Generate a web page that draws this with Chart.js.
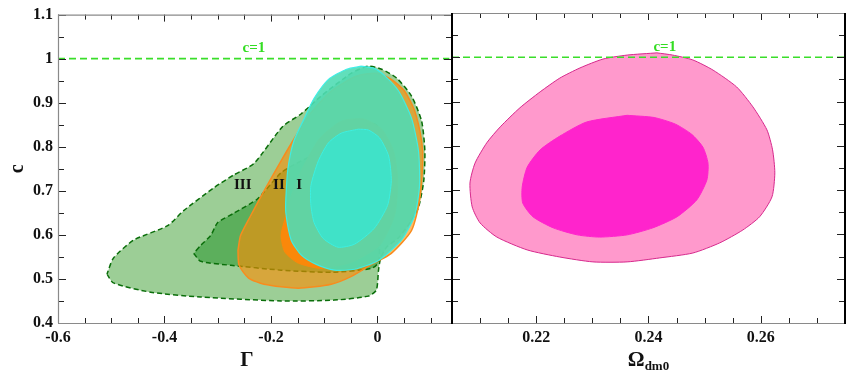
<!doctype html>
<html lang="en">
  <head>
    <meta charset="utf-8">
    <title>Confidence contours c vs Gamma and Omega_dm0</title>
    <style>
      * { margin: 0; padding: 0; }
      body { background: #ffffff; width: 852px; height: 382px; position: relative; overflow: hidden; }
      canvas { position: absolute; top: 0; }
      #leftChart { left: 0; }
      #rightChart { left: 440px; }
    </style>
  </head>
  <body>
    <canvas id="leftChart" width="460" height="382"></canvas>
    <canvas id="rightChart" width="412" height="382"></canvas>
    <script src="https://cdn.jsdelivr.net/npm/chart.js"></script>
    <script>
    // ---- data ----
    // left panel: (Gamma, c) contours
    const outerIII = [[-0.508,0.511],[-0.496,0.491],[-0.426,0.470],[-0.332,0.459],[-0.181,0.450],[-0.081,0.452],
      [-0.017,0.461],[-0.002,0.475],[0.002,0.520],[0.006,0.547],[0.017,0.572],[0.040,0.594],[0.064,0.633],
      [0.077,0.662],[0.087,0.723],[0.089,0.791],[0.083,0.858],[0.064,0.915],[0.036,0.956],[0.008,0.976],
      [-0.017,0.983],[-0.049,0.967],[-0.106,0.915],[-0.143,0.875],[-0.178,0.846],[-0.232,0.762],[-0.270,0.736],
      [-0.306,0.708],[-0.364,0.655],[-0.394,0.621],[-0.458,0.588],[-0.496,0.547]];
    const innerIII = [[-0.345,0.558],[-0.332,0.540],[-0.275,0.531],[-0.181,0.520],[-0.087,0.515],[-0.011,0.524],
      [0.002,0.538],[0.004,0.588],[0.004,0.633],[0.008,0.723],[0.008,0.798],[0.000,0.847],[-0.011,0.854],
      [-0.062,0.829],[-0.092,0.798],[-0.143,0.768],[-0.181,0.741],[-0.225,0.682],[-0.270,0.649],[-0.300,0.628],
      [-0.313,0.599],[-0.332,0.576]];
    const outerII = [[-0.262,0.565],[-0.260,0.531],[-0.242,0.502],[-0.213,0.488],[-0.149,0.479],[-0.087,0.488],
      [-0.049,0.506],[-0.011,0.533],[0.026,0.558],[0.064,0.610],[0.079,0.678],[0.085,0.768],[0.083,0.813],
      [0.070,0.881],[0.051,0.926],[0.026,0.953],[-0.002,0.967],[-0.040,0.960],[-0.087,0.926],[-0.125,0.877],
      [-0.153,0.825],[-0.181,0.768],[-0.213,0.700],[-0.238,0.644],[-0.257,0.599]];
    const innerII = [[-0.172,0.644],[-0.181,0.599],[-0.174,0.561],[-0.149,0.536],[-0.106,0.524],[-0.049,0.538],
      [0.004,0.576],[0.032,0.644],[0.038,0.723],[0.030,0.791],[0.008,0.840],[-0.026,0.863],[-0.068,0.858],
      [-0.109,0.818],[-0.143,0.746],[-0.162,0.689]];
    const outerI = [[-0.030,0.983],[-0.058,0.976],[-0.092,0.953],[-0.119,0.910],[-0.138,0.863],[-0.157,0.813],
      [-0.168,0.752],[-0.172,0.685],[-0.172,0.649],[-0.162,0.588],[-0.143,0.554],[-0.115,0.533],[-0.081,0.520],
      [-0.043,0.522],[0.002,0.542],[0.045,0.588],[0.070,0.644],[0.079,0.712],[0.077,0.791],[0.064,0.865],
      [0.040,0.926],[0.013,0.962],[-0.006,0.978]];
    const innerI = [[-0.036,0.840],[-0.068,0.831],[-0.092,0.809],[-0.111,0.768],[-0.125,0.712],[-0.125,0.667],
      [-0.119,0.628],[-0.102,0.592],[-0.074,0.572],[-0.043,0.579],[-0.006,0.615],[0.019,0.667],[0.026,0.723],
      [0.021,0.779],[0.004,0.820],[-0.017,0.838]];
    // right panel: (Omega_dm0, c) contours
    const outerOmega = [[0.2415,1.010],[0.2362,1.005],[0.2319,0.996],[0.2278,0.976],[0.2242,0.953],[0.2207,0.922],
      [0.2171,0.886],[0.2136,0.843],[0.2112,0.807],[0.2091,0.761],[0.2082,0.716],[0.2086,0.662],[0.2100,0.626],
      [0.2130,0.594],[0.2184,0.565],[0.2242,0.549],[0.2301,0.538],[0.2362,0.538],[0.2420,0.547],[0.2479,0.558],
      [0.2527,0.581],[0.2568,0.610],[0.2598,0.640],[0.2620,0.685],[0.2625,0.739],[0.2621,0.791],[0.2611,0.836],
      [0.2586,0.888],[0.2557,0.933],[0.2515,0.971],[0.2479,0.994],[0.2443,1.005]];
    const innerOmega = [[0.2362,0.869],[0.2290,0.854],[0.2242,0.822],[0.2207,0.791],[0.2184,0.752],[0.2175,0.707],
      [0.2176,0.671],[0.2194,0.640],[0.2230,0.615],[0.2273,0.599],[0.2313,0.594],[0.2362,0.599],[0.2408,0.615],
      [0.2451,0.640],[0.2486,0.678],[0.2504,0.723],[0.2506,0.761],[0.2497,0.797],[0.2477,0.826],[0.2448,0.849],
      [0.2410,0.864]];
    const cLimit = 1;

    // tick labels
    const yTickLabels = [0.4, 0.5, 0.6, 0.7, 0.8, 0.9, 1, 1.1];
    const gammaTickLabels = [-0.6, -0.4, -0.2, 0];
    const omegaTickLabels = [0.22, 0.24, 0.26];

    // text annotations (data coordinates)
    const leftNotes = [
      { text: 'III', x: -0.253, y: 0.712, color: '#111' },
      { text: 'II', x: -0.185, y: 0.712, color: '#111' },
      { text: 'I', x: -0.147, y: 0.712, color: '#111' },
      { text: 'c=1', x: -0.232, y: 1.024, color: '#33dd22' }
    ];
    const rightNotes = [
      { text: 'c=1', x: 0.2429, y: 1.024, color: '#33dd22' }
    ];

    // ---- helpers ----
    const SERIF = '"Liberation Serif", "DejaVu Serif", serif';
    const toXY = arr => arr.concat([arr[0]]).map(p => ({ x: p[0], y: p[1] }));
    const onList = (v, list) => list.some(t => Math.abs(t - v) < 1e-6);
    const fmt = v => String(Number(Number(v).toFixed(3)));

    function contour(data, fill, border, width, dash, order) {
      return {
        data: toXY(data),
        showLine: true,
        fill: 'shape',
        backgroundColor: fill,
        borderColor: border,
        borderWidth: width,
        borderDash: dash,
        pointRadius: 0,
        tension: 0.22,
        order: order
      };
    }

    function limitLine(x0, x1) {
      return {
        data: [{ x: x0, y: cLimit }, { x: x1, y: cLimit }],
        showLine: true,
        fill: false,
        borderColor: '#3ade2a',
        borderWidth: 1.6,
        borderDash: [7, 4],
        pointRadius: 0,
        order: 0
      };
    }

    // frame, inward ticks and text
    function decorPlugin(cfg) {
      return {
        id: 'decor',
        afterDatasetsDraw(chart) {
          const ctx = chart.ctx;
          const x = chart.scales.x, y = chart.scales.y;
          ctx.save();
          ctx.font = 'bold 15px ' + SERIF;
          ctx.textAlign = 'center';
          ctx.textBaseline = 'middle';
          cfg.notes.forEach(n => {
            ctx.fillStyle = n.color;
            ctx.fillText(n.text, x.getPixelForValue(n.x), y.getPixelForValue(n.y));
          });
          ctx.restore();
        },
        afterDraw(chart) {
          const ctx = chart.ctx;
          const a = chart.chartArea;
          const x = chart.scales.x, y = chart.scales.y;
          ctx.save();
          // inward ticks
          ctx.strokeStyle = '#222';
          ctx.lineWidth = 1;
          ctx.beginPath();
          for (let i = 0; ; i++) {
            const v = cfg.xStart + i * cfg.xStep;
            if (v > x.max + 1e-9) break;
            const px = Math.round(x.getPixelForValue(v)) + 0.5;
            const len = onList(v, cfg.xMajor) ? 7 : 5;
            ctx.moveTo(px, a.bottom); ctx.lineTo(px, a.bottom - len);
            ctx.moveTo(px, a.top); ctx.lineTo(px, a.top + len);
          }
          for (let i = 0; ; i++) {
            const v = 0.4 + i * 0.05;
            if (v > 1.1 + 1e-9) break;
            const py = Math.round(y.getPixelForValue(v)) + 0.5;
            const len = onList(v, yTickLabels) ? 8 : 6;
            ctx.moveTo(a.left, py); ctx.lineTo(a.left + len, py);
            ctx.moveTo(a.right, py); ctx.lineTo(a.right - len, py);
          }
          ctx.stroke();
          // frame
          ctx.strokeStyle = '#8a8a8a';
          ctx.lineWidth = 1.2;
          ctx.beginPath();
          ctx.moveTo(a.left, a.top + 0.5); ctx.lineTo(a.right, a.top + 0.5);
          ctx.moveTo(a.left, a.bottom + 0.5); ctx.lineTo(a.right, a.bottom + 0.5);
          if (!cfg.darkLeft) { ctx.moveTo(a.left + 0.5, a.top); ctx.lineTo(a.left + 0.5, a.bottom); }
          ctx.stroke();
          ctx.strokeStyle = '#000';
          ctx.lineWidth = 2;
          ctx.beginPath();
          ctx.moveTo(a.right, a.top); ctx.lineTo(a.right, a.bottom + 1);
          if (cfg.darkLeft) { ctx.moveTo(a.left, a.top); ctx.lineTo(a.left, a.bottom + 1); }
          ctx.stroke();
          // axis titles
          ctx.fillStyle = '#111';
          ctx.textBaseline = 'alphabetic';
          if (cfg.xTitle === 'Γ') {
            ctx.font = 'bold 21px ' + SERIF;
            ctx.textAlign = 'center';
            ctx.fillText('Γ', (a.left + a.right) / 2 - 8, 366);
            ctx.save();
            ctx.translate(23, (a.top + a.bottom) / 2);
            ctx.rotate(-Math.PI / 2);
            ctx.font = 'bold 20px ' + SERIF;
            ctx.fillText('c', 0, 0);
            ctx.restore();
          } else {
            ctx.textAlign = 'left';
            ctx.font = 'bold 21px ' + SERIF;
            const w1 = ctx.measureText('Ω').width;
            ctx.font = 'bold 13px ' + SERIF;
            const w2 = ctx.measureText('dm0').width;
            const x0 = (a.left + a.right) / 2 - (w1 + w2) / 2;
            ctx.font = 'bold 21px ' + SERIF;
            ctx.fillText('Ω', x0, 366);
            ctx.font = 'bold 13px ' + SERIF;
            ctx.fillText('dm0', x0 + w1, 370);
          }
          ctx.restore();
        }
      };
    }

    const tickFont = { family: SERIF, size: 16, weight: 'bold' };

    // ---- left panel ----
    const leftChart = new Chart(document.getElementById('leftChart'), {
      type: 'scatter',
      data: {
        datasets: [
          limitLine(-0.6, 0.135),
          contour(innerI, 'rgb(64,226,200)', 'rgb(60,240,225)', 1, [], 1),
          contour(outerI, 'rgba(80,220,180,0.9)', 'rgba(60,238,232,0.95)', 1.2, [], 2),
          contour(innerII, 'rgba(255,135,8,0.92)', 'rgba(255,135,8,0.9)', 1, [], 3),
          contour(outerII, 'rgba(255,140,0,0.6)', 'rgb(248,140,30)', 1.5, [], 4),
          contour(innerIII, 'rgb(92,175,92)', 'rgb(10,110,10)', 1.5, [5, 3], 5),
          contour(outerIII, 'rgb(156,206,150)', 'rgb(10,110,10)', 1.5, [5, 3], 6)
        ]
      },
      options: {
        responsive: false,
        devicePixelRatio: 1,
        animation: false,
        layout: { padding: { top: 13, right: 8, left: 0, bottom: 0 } },
        plugins: { legend: { display: false }, tooltip: { enabled: false } },
        scales: {
          x: {
            type: 'linear', min: -0.6, max: 0.14,
            grid: { display: false, drawTicks: false },
            border: { display: false },
            ticks: { stepSize: 0.05, autoSkip: false, maxRotation: 0, padding: 5, color: '#111', font: tickFont,
              callback: v => onList(v, gammaTickLabels) ? fmt(v) : '' },
            afterFit: s => { s.height = 59; }
          },
          y: {
            type: 'linear', min: 0.4, max: 1.1,
            grid: { display: false, drawTicks: false },
            border: { display: false },
            ticks: { stepSize: 0.05, autoSkip: false, padding: 5, color: '#111', font: tickFont,
              callback: v => onList(v, yTickLabels) ? fmt(v) : '' },
            afterFit: s => { s.width = 58; }
          }
        }
      },
      plugins: [decorPlugin({ notes: leftNotes, xStart: -0.6, xStep: 0.05, xMajor: [-0.6, -0.4, -0.2, 0], xTitle: 'Γ', darkLeft: false })]
    });

    // ---- right panel ----
    const rightChart = new Chart(document.getElementById('rightChart'), {
      type: 'scatter',
      data: {
        datasets: [
          limitLine(0.205, 0.275),
          contour(innerOmega, 'rgb(255,36,204)', 'rgb(255,36,204)', 1, [], 1),
          contour(outerOmega, 'rgb(255,153,204)', 'rgb(214,40,140)', 1, [], 2)
        ]
      },
      options: {
        responsive: false,
        devicePixelRatio: 1,
        animation: false,
        layout: { padding: { top: 13, right: 7, left: 12, bottom: 0 } },
        plugins: { legend: { display: false }, tooltip: { enabled: false } },
        scales: {
          x: {
            type: 'linear', min: 0.205, max: 0.275,
            grid: { display: false, drawTicks: false },
            border: { display: false },
            ticks: { stepSize: 0.005, autoSkip: false, maxRotation: 0, padding: 5, color: '#111', font: tickFont,
              callback: v => onList(v, omegaTickLabels) ? fmt(v) : '' },
            afterFit: s => { s.height = 59; }
          },
          y: {
            type: 'linear', min: 0.4, max: 1.1, display: false
          }
        }
      },
      plugins: [decorPlugin({ notes: rightNotes, xStart: 0.21, xStep: 0.005, xMajor: omegaTickLabels, xTitle: 'Ω', darkLeft: true })]
    });
    </script>
  </body>
</html>
